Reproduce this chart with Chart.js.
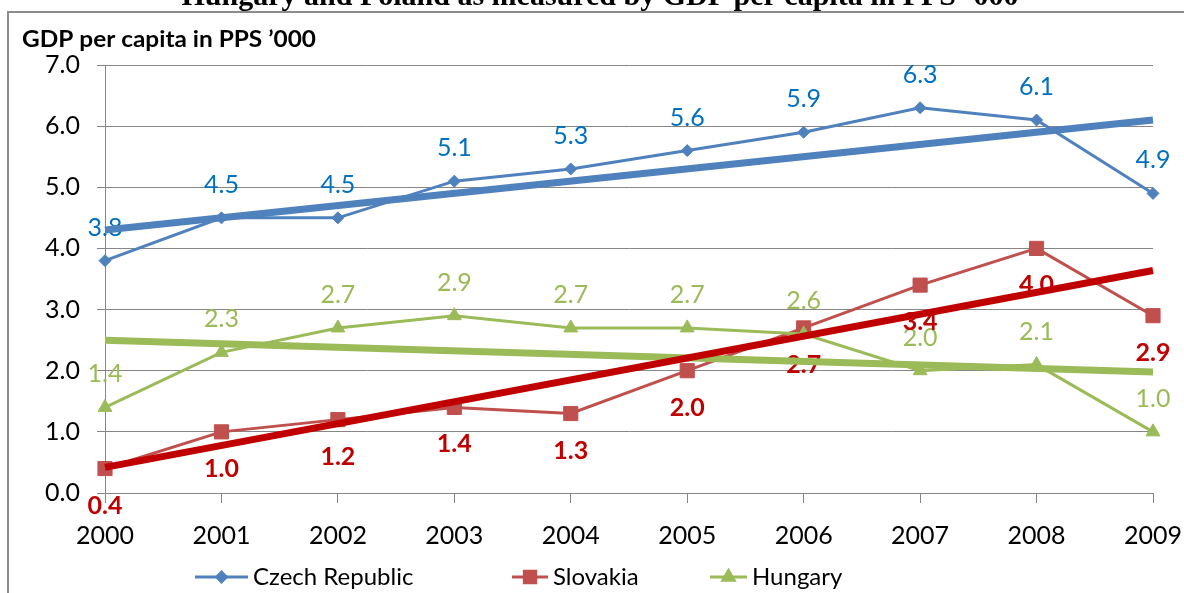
<!DOCTYPE html>
<html lang="en">
<head>
<meta charset="UTF-8">
<script src="https://cdn.jsdelivr.net/npm/chart.js@4"></script>
<style>
  html, body { margin: 0; padding: 0; background: #fff; }
</style>
</head>
<body>
<canvas id="chart-area" width="1184" height="593"></canvas>
<script>
var years = ['2000', '2001', '2002', '2003', '2004', '2005', '2006', '2007', '2008', '2009'];
var czech = [3.8, 4.5, 4.5, 5.1, 5.3, 5.6, 5.9, 6.3, 6.1, 4.9];
var slovakia = [0.4, 1.0, 1.2, 1.4, 1.3, 2.0, 2.7, 3.4, 4.0, 2.9];
var hungary = [1.4, 2.3, 2.7, 2.9, 2.7, 2.7, 2.6, 2.0, 2.1, 1.0];
// linear trendlines: value at 2000 and at 2009
var czechTrend = [4.3, 6.1];
var slovakiaTrend = [0.42, 3.64];
var hungaryTrend = [2.5, 1.98];

var titleText = 'Hungary and Poland as measured by GDP per capita in PPS \u2019000';
var yTitle = 'GDP per capita in PPS \u2019000';

var FONT = 'Lato, "Open Sans", sans-serif';

function ends(t) {
    var arr = years.map(function () { return null; });
    arr[0] = t[0];
    arr[arr.length - 1] = t[1];
    return arr;
}

function series(label, data, color, style, radius, labelColor, weight, below) {
    return {
        label: label, data: data, borderColor: color, backgroundColor: color,
        borderWidth: 3, pointStyle: style, pointRadius: radius, pointBackgroundColor: color,
        pointBorderColor: color, pointBorderWidth: 1, tension: 0,
        labelColor: labelColor, labelWeight: weight, labelBelow: below
    };
}

function trend(label, data, color, width, order) {
    return {
        label: label, data: ends(data), borderColor: color, borderWidth: width,
        pointRadius: 0, spanGaps: true, order: order, isTrend: true
    };
}

var ds = [
    trend('Slovakia trend', slovakiaTrend, '#C00000', 7, 0),
    trend('Hungary trend', hungaryTrend, '#9BBB59', 7, 1),
    trend('Czech trend', czechTrend, '#4F81BD', 7, 2),
    Object.assign(series('Hungary', hungary, '#9BBB59', 'triangle', 8, '#9BBB59', 'normal', false), {order: 3}),
    Object.assign(series('Slovakia', slovakia, '#C0504D', 'rect', 10, '#C00000', 'bold', true), {order: 4}),
    Object.assign(series('Czech Republic', czech, '#4F81BD', 'rectRot', 6, '#0070C0', 'normal', false), {order: 5})
];

// frame, top title and axis title
var frame = {
    id: 'frame',
    beforeDraw: function (chart) {
        var ctx = chart.ctx;
        ctx.save();
        ctx.strokeStyle = '#8c8c8c';
        ctx.lineWidth = 2;
        ctx.beginPath();
        ctx.moveTo(8, chart.height);
        ctx.lineTo(8, 12);
        ctx.lineTo(chart.width, 12);
        ctx.stroke();

        ctx.fillStyle = '#000';
        ctx.font = 'bold 30px "Liberation Serif", serif';
        ctx.textAlign = 'center';
        ctx.textBaseline = 'alphabetic';
        ctx.fillText(titleText, 600, 5);

        ctx.font = 'bold 23px ' + FONT;
        ctx.textAlign = 'left';
        ctx.textBaseline = 'middle';
        var w = ctx.measureText(yTitle).width;
        ctx.translate(22, 40);
        ctx.scale(294 / w, 1);
        ctx.fillText(yTitle, 0, 0);
        ctx.restore();
    }
};

// value labels, drawn under the trendlines
var valueLabels = {
    id: 'valueLabels',
    afterDatasetDraw: function (chart, args) {
        if (chart.data.datasets[args.index].label !== 'Hungary') return;
        var ctx = chart.ctx;
        ctx.save();
        ctx.textAlign = 'center';
        ctx.textBaseline = 'middle';
        chart.data.datasets.forEach(function (d, i) {
            if (d.isTrend) return;
            var meta = chart.getDatasetMeta(i);
            ctx.fillStyle = d.labelColor;
            ctx.font = d.labelWeight + ' 25px ' + FONT;
            meta.data.forEach(function (p, j) {
                var dy = d.labelBelow ? 37 : -33;
                ctx.fillText(d.data[j].toFixed(1), p.x, p.y + dy);
            });
        });
        ctx.restore();
    }
};

// legend with line and marker
var legendItems = [
    {label: 'Czech Republic', x: 195, len: 53},
    {label: 'Slovakia', x: 512, len: 36},
    {label: 'Hungary', x: 710, len: 37}
];
var lineLegend = {
    id: 'lineLegend',
    afterDraw: function (chart) {
        var ctx = chart.ctx;
        var y = 577;
        ctx.save();
        legendItems.forEach(function (it) {
            var d = chart.data.datasets.find(function (s) { return s.label === it.label; });
            ctx.strokeStyle = d.borderColor;
            ctx.lineWidth = 3;
            ctx.beginPath();
            ctx.moveTo(it.x, y);
            ctx.lineTo(it.x + it.len, y);
            ctx.stroke();
            ctx.fillStyle = d.borderColor;
            Chart.helpers.drawPoint(ctx, {pointStyle: d.pointStyle, radius: d.pointRadius * 0.8, borderWidth: 1}, it.x + it.len / 2, y);
            ctx.fillStyle = '#000';
            ctx.font = '24px ' + FONT;
            ctx.textAlign = 'left';
            ctx.textBaseline = 'middle';
            ctx.fillText(it.label, it.x + it.len + 5, y);
        });
        ctx.restore();
    }
};

var config = {
    type: 'line',
    data: { labels: years, datasets: ds },
    options: {
        responsive: false,
        animation: false,
        devicePixelRatio: 1,
        layout: { padding: { left: 10, top: 65, right: 31, bottom: 40 } },
        plugins: { legend: { display: false }, tooltip: { enabled: false } },
        scales: {
            x: {
                offset: false,
                grid: { drawOnChartArea: false, tickLength: 10, color: '#868686' },
                border: { color: '#868686' },
                ticks: { font: { family: FONT, size: 25 }, color: '#000', padding: 18, maxRotation: 0, autoSkip: false },
                afterFit: function (s) { s.height = 60; s.paddingLeft = 0; s.paddingRight = 0; }
            },
            y: {
                min: 0, max: 7,
                grid: { color: '#868686', tickLength: 8 },
                border: { color: '#868686' },
                ticks: { stepSize: 1, font: { family: FONT, size: 25 }, color: '#000', padding: 17,
                    callback: function (v) { return v.toFixed(1); } },
                afterFit: function (s) { s.width = 95; s.paddingTop = 0; s.paddingBottom = 0; }
            }
        }
    },
    plugins: [frame, valueLabels, lineLegend]
};

new Chart(document.getElementById('chart-area').getContext('2d'), config);
</script>
</body>
</html>
